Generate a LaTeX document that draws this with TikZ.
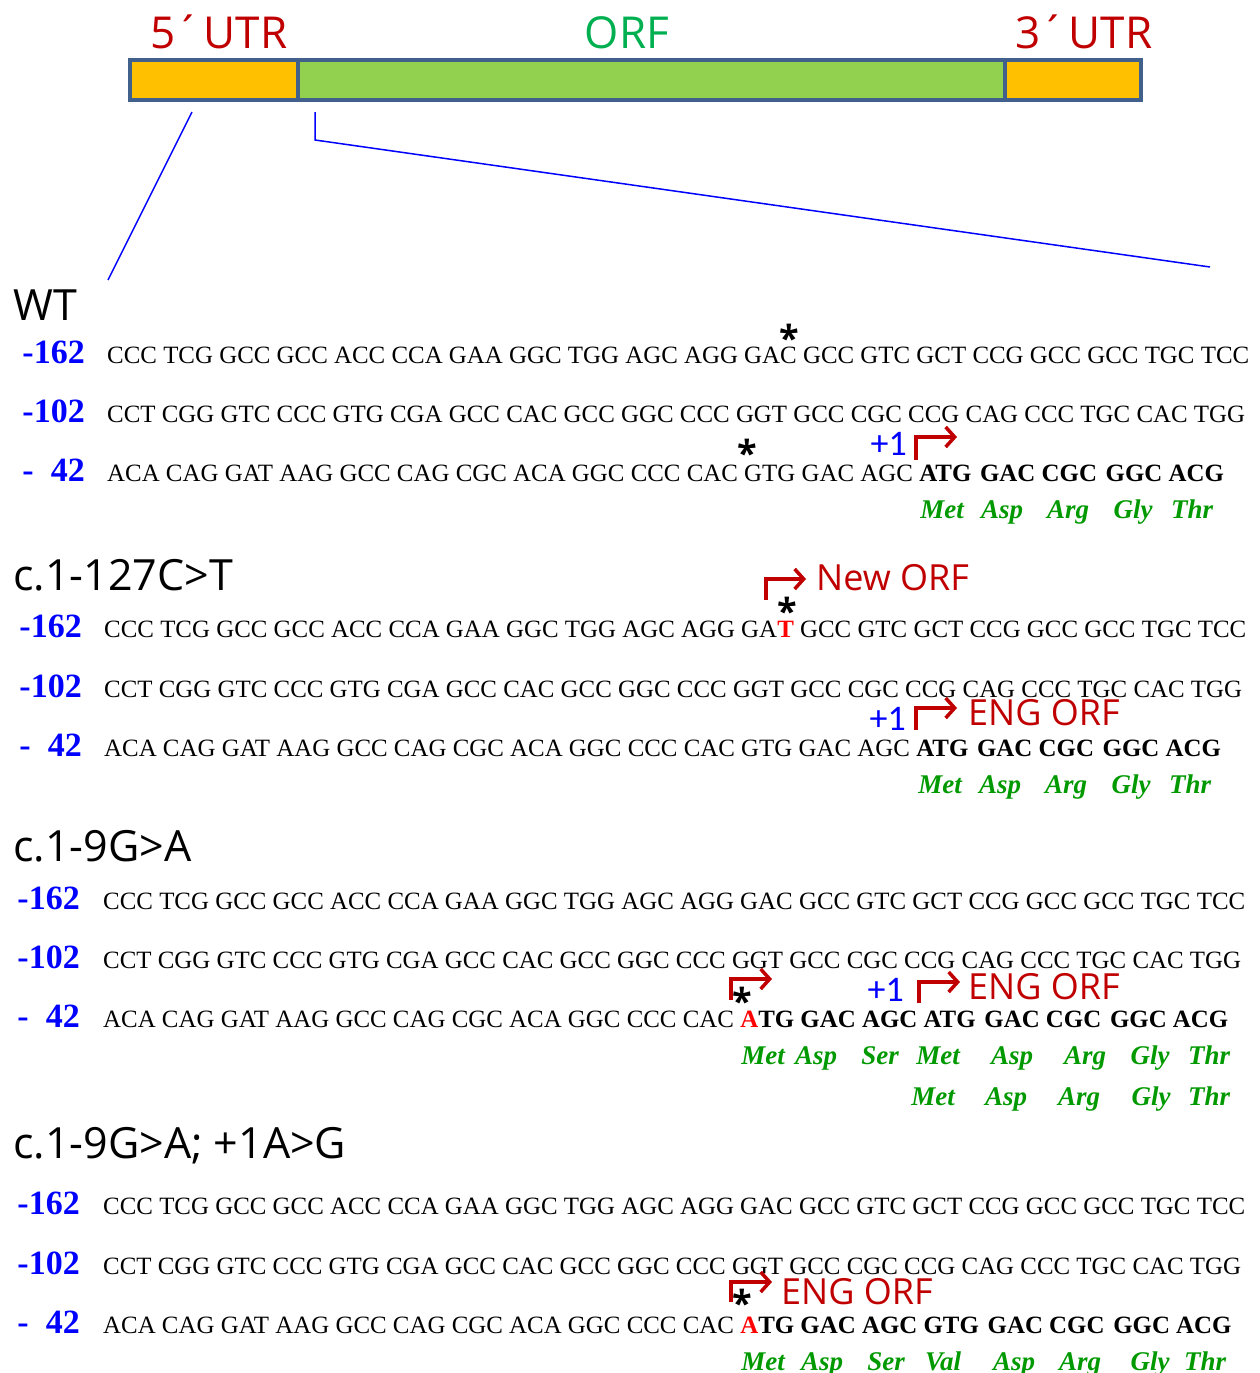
\documentclass[tikz,border=0pt]{standalone}
\usepackage{fontspec}
\setmainfont{Liberation Serif}
\newfontfamily\comicfont{Open Sans}
\newfontfamily\plusfont{Carlito}
\usetikzlibrary{arrows.meta,positioning}
\definecolor{utrred}{HTML}{C00000}
\definecolor{orfgreen}{HTML}{00B050}
\definecolor{utrfill}{HTML}{FFC000}
\definecolor{orffill}{HTML}{92D050}
\definecolor{barline}{HTML}{41618C}
\definecolor{posblue}{HTML}{0000FF}
\definecolor{aagreen}{HTML}{009900}
\definecolor{mutred}{HTML}{FF0000}
\newcommand{\fs}[1]{\fontsize{#1pt}{#1pt}\selectfont}
\newcommand{\gap}{\ \hspace{0.1em}}
\newcommand{\snp}{\raisebox{-0.3em}[0.3em][0pt]{*}}

\tikzset{
  seq/.style={anchor=base west, inner sep=0pt, font=\fs{24.9}},
  rowlbl/.style={anchor=base east, inner sep=0pt, font=\fs{34}\bfseries, text=posblue},
  aa/.style={anchor=base, inner sep=0pt, font=\fs{27}\bfseries\itshape, text=aagreen},
  sectitle/.style={anchor=base west, inner sep=0pt, font=\comicfont\fs{43}},
  orf/.style={anchor=west, inner sep=0pt, font=\comicfont\fs{36}, text=utrred},
  plusone/.style={anchor=east, inner sep=0pt, font=\plusfont\fs{36}, text=posblue},
  asterisk/.style={anchor=base, inner sep=0pt, font=\comicfont\bfseries\fs{36}},
  bent/.style={utrred, line width=3.5pt, -{Straight Barb[length=9pt,width=20pt]}},
  seg/.style={draw=barline, line width=4pt, minimum height=40pt, anchor=north west, inner sep=0pt, outer sep=0pt},
  zoomline/.style={blue, line width=1.5pt}
}

\begin{document}
\begin{tikzpicture}[x=1pt,y=-1pt]
\useasboundingbox (0,0) rectangle (1260,1373);

% --- transcript bar ---
\node[seg, fill=utrfill, minimum width=168pt] (bar5) at (130,60) {};
\node[seg, fill=orffill, minimum width=707pt] (barorf) at (298,60) {};
\node[seg, fill=utrfill, minimum width=136pt] (bar3) at (1005,60) {};
\node[font=\comicfont\fs{44}, text=utrred, anchor=base] (lbl5) at (219,48) {5´\hspace{-0.2em} UTR};
\node[font=\comicfont\fs{44}, text=orfgreen, anchor=base] (lblorf) at (627,48) {ORF};
\node[font=\comicfont\fs{44}, text=utrred, anchor=base] (lbl3) at (1084,48) {3´\hspace{-0.2em} UTR};

% zoom lines
\coordinate (z5) at (192,112);
\coordinate (zwt) at (108,280);
\coordinate (zorf) at (315,112);
\coordinate (zend) at (1210,267);
\draw[zoomline] (z5) -- (zwt);
\draw[zoomline] (zorf) -- ++(0,28) -- (zend);

% --- WT ---
\begin{scope}[shift={(0,363)}]
  \node[sectitle] (wt) at (13,-43) {WT};
  \node[rowlbl] (wt-l1) at (85,0) {-162};
  \node[seq] (wt-s1) at (107,0) {CCC TCG GCC GCC ACC CCA GAA GGC TGG AGC AGG GAC GCC GTC GCT CCG GCC GCC TGC TCC};
  \node[rowlbl] (wt-l2) at (85,59) {-102};
  \node[seq] (wt-s2) at (107,59) {CCT CGG GTC CCC GTG CGA GCC CAC GCC GGC CCC GGT GCC CGC CCG CAG CCC TGC CAC TGG};
  \node[rowlbl] (wt-l3) at (85,118) {-\ \ 42};
  \node[seq] (wt-s3) at (107,118) {ACA CAG GAT AAG GCC CAG CGC ACA GGC CCC CAC GTG GAC AGC \textbf{ATG\gap GAC CGC\gap GGC ACG}};

  \node[asterisk] (wt-a1) at (789,-22) {\snp};
  \node[asterisk] (wt-a2) at (747,93) {\snp};
  \node[plusone] (wt-p1) at (907,81) {+1};
  \coordinate (wt-b0) at (916,97);
  \coordinate (wt-b1) at (957,74);
  \draw[bent] (wt-b0) |- (wt-b1);

  \node[aa] (wt-m1) at (942,155) {Met};
  \node[aa] (wt-m2) at (1002,155) {Asp};
  \node[aa] (wt-m3) at (1068,155) {Arg};
  \node[aa] (wt-m4) at (1133,155) {Gly};
  \node[aa] (wt-m5) at (1192,155) {Thr};
\end{scope}

% --- c.1-127C>T ---
\begin{scope}[shift={(0,637)}]
  \node[sectitle] (ct) at (13,-47) {c.1-127C>T};
  \node[rowlbl] (ct-l1) at (82,0) {-162};
  \node[seq] (ct-s1) at (104,0) {CCC TCG GCC GCC ACC CCA GAA GGC TGG AGC AGG GA\textcolor{mutred}{\bfseries T} GCC GTC GCT CCG GCC GCC TGC TCC};
  \node[rowlbl] (ct-l2) at (82,60) {-102};
  \node[seq] (ct-s2) at (104,60) {CCT CGG GTC CCC GTG CGA GCC CAC GCC GGC CCC GGT GCC CGC CCG CAG CCC TGC CAC TGG};
  \node[rowlbl] (ct-l3) at (82,119) {-\ \ 42};
  \node[seq] (ct-s3) at (104,119) {ACA CAG GAT AAG GCC CAG CGC ACA GGC CCC CAC GTG GAC AGC \textbf{ATG\gap GAC CGC\gap GGC ACG}};

  \node[asterisk] (ct-a1) at (787,-23) {\snp};
  \coordinate (ct-n0) at (766,-37);
  \coordinate (ct-n1) at (806,-58);
  \draw[bent] (ct-n0) |- (ct-n1);
  \node[orf] (ct-new) at (816,-59) {New ORF};

  \node[plusone] (ct-p1) at (906,82) {+1};
  \coordinate (ct-b0) at (916,93);
  \coordinate (ct-b1) at (957,71);
  \draw[bent] (ct-b0) |- (ct-b1);
  \node[orf] (ct-eng) at (968,76) {ENG ORF};

  \node[aa] (ct-m1) at (940,156) {Met};
  \node[aa] (ct-m2) at (1000,156) {Asp};
  \node[aa] (ct-m3) at (1066,156) {Arg};
  \node[aa] (ct-m4) at (1131,156) {Gly};
  \node[aa] (ct-m5) at (1190,156) {Thr};
\end{scope}

% --- c.1-9G>A ---
\begin{scope}[shift={(0,909)}]
  \node[sectitle] (ga) at (13,-48) {c.1-9G>A};
  \node[rowlbl] (ga-l1) at (80,0) {-162};
  \node[seq] (ga-s1) at (103,0) {CCC TCG GCC GCC ACC CCA GAA GGC TGG AGC AGG GAC GCC GTC GCT CCG GCC GCC TGC TCC};
  \node[rowlbl] (ga-l2) at (80,59) {-102};
  \node[seq] (ga-s2) at (103,59) {CCT CGG GTC CCC GTG CGA GCC CAC GCC GGC CCC GGT GCC CGC CCG CAG CCC TGC CAC TGG};
  \node[rowlbl] (ga-l3) at (80,118) {-\ \ 42};
  \node[seq] (ga-s3) at (103,118) {ACA CAG GAT AAG GCC CAG CGC ACA GGC CCC CAC \textbf{\textcolor{mutred}{A}TG GAC AGC ATG\gap GAC CGC\gap GGC ACG}};

  \node[asterisk] (ga-a1) at (742,95) {\snp};
  \coordinate (ga-n0) at (731,91);
  \coordinate (ga-n1) at (772,70);
  \draw[bent] (ga-n0) |- (ga-n1);

  \node[plusone] (ga-p1) at (904,81) {+1};
  \coordinate (ga-b0) at (919,94);
  \coordinate (ga-b1) at (960,73);
  \draw[bent] (ga-b0) |- (ga-b1);
  \node[orf] (ga-eng) at (968,78) {ENG ORF};

  % new frame
  \node[aa] (ga-m1) at (763,155) {Met};
  \node[aa] (ga-m2) at (816,155) {Asp};
  \node[aa] (ga-m3) at (880,155) {Ser};
  \node[aa] (ga-m4) at (938,155) {Met};
  \node[aa] (ga-m5) at (1012,155) {Asp};
  \node[aa] (ga-m6) at (1085,155) {Arg};
  \node[aa] (ga-m7) at (1150,155) {Gly};
  \node[aa] (ga-m8) at (1209,155) {Thr};
  % ENG frame
  \node[aa] (ga-e1) at (933,196) {Met};
  \node[aa] (ga-e2) at (1006,196) {Asp};
  \node[aa] (ga-e3) at (1079,196) {Arg};
  \node[aa] (ga-e4) at (1151,196) {Gly};
  \node[aa] (ga-e5) at (1209,196) {Thr};
\end{scope}

% --- c.1-9G>A; +1A>G ---
\begin{scope}[shift={(0,1214)}]
  \node[sectitle] (gg) at (13,-56) {c.1-9G>A; +1A>G};
  \node[rowlbl] (gg-l1) at (80,0) {-162};
  \node[seq] (gg-s1) at (103,0) {CCC TCG GCC GCC ACC CCA GAA GGC TGG AGC AGG GAC GCC GTC GCT CCG GCC GCC TGC TCC};
  \node[rowlbl] (gg-l2) at (80,60) {-102};
  \node[seq] (gg-s2) at (103,60) {CCT CGG GTC CCC GTG CGA GCC CAC GCC GGC CCC GGT GCC CGC CCG CAG CCC TGC CAC TGG};
  \node[rowlbl] (gg-l3) at (80,119) {-\ \ 42};
  \node[seq] (gg-s3) at (103,119) {ACA CAG GAT AAG GCC CAG CGC ACA GGC CCC CAC \textbf{\textcolor{mutred}{A}TG GAC AGC GTG\gap GAC CGC\gap GGC ACG}};

  \node[asterisk] (gg-a1) at (742,92) {\snp};
  \coordinate (gg-n0) at (731,88);
  \coordinate (gg-n1) at (772,68);
  \draw[bent] (gg-n0) |- (gg-n1);
  \node[orf] (gg-eng) at (781,78) {ENG ORF};

  \node[aa] (gg-m1) at (763,156) {Met};
  \node[aa] (gg-m2) at (822,156) {Asp};
  \node[aa] (gg-m3) at (886,156) {Ser};
  \node[aa] (gg-m4) at (943,156) {Val};
  \node[aa] (gg-m5) at (1014,156) {Asp};
  \node[aa] (gg-m6) at (1080,156) {Arg};
  \node[aa] (gg-m7) at (1150,156) {Gly};
  \node[aa] (gg-m8) at (1205,156) {Thr};
\end{scope}
\end{tikzpicture}
\end{document}
